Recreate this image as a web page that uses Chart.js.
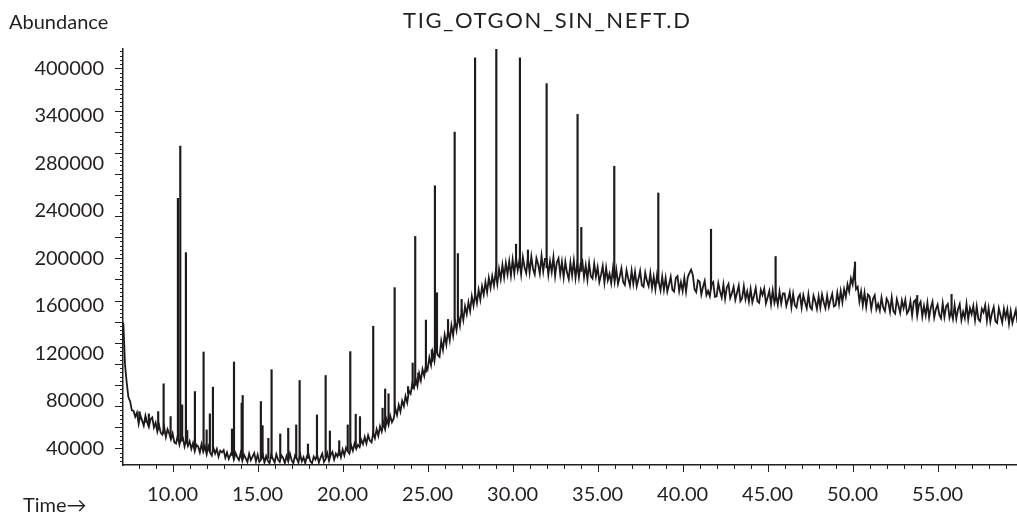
<!DOCTYPE html>
<html>
<head>
<meta charset="utf-8">
<script src="https://cdn.jsdelivr.net/npm/chart.js@4.4.0/dist/chart.umd.min.js"></script>
<style>
  html, body { margin: 0; padding: 0; background: #fff; }
  #wrap { width: 1017px; height: 514px; }
</style>
</head>
<body>
<div id="wrap"><canvas id="chartTic" width="1017" height="514"></canvas></div>
<script>
const chartTitle = 'TIG_OTGON_SIN_NEFT.D';
const yAxisTitle = 'Abundance';
const xAxisTitle = 'Time\u2192';

// linha de base: uma leitura a cada 0.1 min, começando em 7.1 min
const scanStart = 7.1;
const scanStep = 0.1;
const baseline = [
  146000, 110000, 95000, 83000, 79500, 72000, 71500, 66500, 70000,
  60500, 68000, 63500, 59000, 67500, 62000, 58000, 64500, 66000, 57500,
  61500, 54000, 59500, 53000, 51500, 58000, 49500, 56000, 52500, 47500,
  52500, 45000, 44000, 50500, 43000, 48500, 49000, 41500, 47500, 42000,
  46000, 39500, 44500, 37500, 43000, 41500, 36500, 43500, 37000, 41500,
  35000, 41500, 36500, 34000, 40500, 35500, 39500, 33000, 38000, 36500,
  38500, 32000, 36500, 31000, 34500, 37500, 30500, 36000, 32500, 30000,
  36000, 29500, 34500, 31500, 28500, 35500, 30000, 33000, 36000, 29000,
  34500, 28500, 30500, 35000, 28000, 33500, 29500, 27500, 34500, 31000,
  28000, 35000, 30500, 28500, 34000, 32000, 27500, 33500, 29000, 35500,
  30000, 27500, 34000, 31500, 28000, 35000, 29000, 32500, 27500, 33500,
  35000, 29000, 27500, 33000, 30500, 34500, 28000, 32000, 35500, 28500,
  31000, 36000, 29500, 34500, 37000, 30500, 35500, 33000, 38500, 32500,
  39000, 34000, 40500, 37500, 35500, 42500, 38000, 44000, 39500, 43000,
  41000, 47000, 43500, 49500, 44000, 51000, 46500, 45000, 53000, 48500,
  56000, 50500, 58500, 54000, 61500, 56000, 64500, 59500, 67500, 62000,
  65000, 73500, 68000, 76500, 71000, 80000, 75500, 84000, 78500, 88500,
  86000, 94500, 91000, 98500, 92500, 103000, 97000, 106500, 101000, 110000,
  106500, 116500, 110000, 121000, 113500, 125000, 118500, 117000, 130500, 123000,
  135500, 127500, 139500, 131000, 143500, 135000, 147500, 139500, 152000, 143500,
  156500, 148000, 159500, 153000, 163000, 155500, 168000, 160000, 170500, 162500,
  173500, 165000, 176500, 169500, 180000, 171500, 183500, 175000, 185000, 177000,
  188000, 178500, 191000, 182500, 194500, 184000, 196000, 186500, 197500, 185500,
  199000, 187000, 200500, 190000, 198500, 186500, 201000, 192500, 187500, 200500,
  188000, 201500, 191000, 186500, 200000, 195000, 187000, 202000, 189000, 199500,
  199500, 186000, 197500, 188500, 201000, 185000, 196500, 200000, 186500, 197000,
  184000, 197000, 188000, 182500, 196500, 185500, 198000, 183500, 195500, 184000,
  195500, 198000, 184000, 194000, 182000, 196000, 185000, 183000, 195500, 184500,
  192500, 180000, 186000, 193500, 179500, 192000, 181500, 187000, 179000, 191500,
  180000, 190500, 178500, 184500, 191500, 180000, 177500, 190000, 183000, 177000,
  189500, 178500, 188500, 176500, 182500, 189500, 177500, 176000, 188000, 181000,
  176500, 187500, 175000, 184500, 174000, 186500, 179500, 173000, 184500, 173500,
  183500, 172000, 178000, 184500, 173500, 172000, 183500, 185000, 172500, 180000,
  172500, 183500, 172000, 184000, 187500, 190500, 186000, 174000, 171500, 181500,
  180500, 169500, 176000, 181000, 169000, 172500, 168000, 178000, 180000, 167500,
  168000, 179000, 172000, 167000, 178000, 166000, 175500, 178500, 166500, 170500,
  176000, 165000, 171000, 177000, 164000, 166500, 176500, 165500, 172000, 163500,
  174000, 163000, 168500, 175000, 164000, 162500, 173500, 169000, 174500, 162000,
  167000, 172500, 161500, 173000, 162500, 168500, 161000, 172000, 162000, 170500,
  170500, 160000, 165000, 171500, 159000, 170000, 160500, 158500, 167000, 169500,
  158500, 169000, 163000, 158000, 169500, 159000, 157000, 168500, 164000, 157500,
  168000, 158500, 169500, 163000, 158000, 168500, 159000, 165000, 170000, 159500,
  160500, 171000, 161500, 172500, 163000, 174000, 167500, 178000, 172000, 183000,
  178000, 190000, 174000, 176000, 163500, 172000, 160500, 171000, 159000, 169500,
  168000, 157500, 166000, 169000, 157000, 161500, 156000, 167000, 158500, 155500,
  166000, 163000, 155000, 167000, 155500, 153500, 165500, 160000, 154000, 164500,
  158000, 165000, 153500, 156000, 164000, 152000, 163500, 165000, 151500, 160500,
  163500, 151000, 160000, 152000, 162500, 150000, 158500, 163500, 150000, 157000,
  161000, 152500, 149500, 162000, 150500, 159500, 161500, 150000, 155500, 149000,
  160500, 149000, 157000, 161500, 148000, 155000, 149500, 161500, 148500, 158000,
  153000, 160000, 148000, 159500, 148500, 147000, 157500, 154500, 160500, 147500,
  158000, 146500, 154000, 159000, 147000, 145500, 158000, 152000, 146000, 157500,
  150000, 157000, 145000, 155500, 145500, 151000, 156500, 145500
];

// picos: tempo de retenção (min), base e topo
const peakTimes = [
  8.04, 8.41, 8.6, 9.15, 9.47, 9.88, 10.31, 10.45, 10.56, 10.78, 10.86,
  11.31, 11.82, 12.0, 12.19, 12.37, 13.49, 13.61, 14.06, 14.12,
  15.19, 15.29, 15.63, 15.82, 16.33, 16.8, 17.27, 17.47, 17.96, 18.49,
  19.0, 19.25, 19.8, 20.3, 20.45, 20.77, 21.02, 21.8, 22.35, 22.5, 22.7,
  23.06, 23.85, 24.12, 24.27, 24.45, 24.9, 25.25, 25.43, 25.55,
  26.2, 26.59, 26.78, 27.0, 27.79, 29.04, 30.2, 30.43, 30.9, 32.0,
  33.82, 34.04, 35.98, 38.57, 41.67, 45.47, 50.14, 53.8, 55.82
];
const peakBases = [
  64000, 62000, 60500, 56000, 52500, 49500, 47000, 46500, 46000, 45000, 44500,
  41000, 39000, 38500, 37500, 37000, 34000, 34000, 33000, 33000,
  31500, 31500, 31500, 31500, 31500, 31500, 31500, 31500, 31500, 31500,
  32000, 32500, 34000, 38000, 39500, 42000, 44000, 51000, 58000, 60000, 62500,
  70000, 86000, 90000, 93000, 96000, 104000, 113000, 118000, 121000,
  138000, 147000, 150000, 155000, 170000, 186000, 193000, 192000, 194000, 192000,
  189000, 189000, 184000, 179000, 174000, 166000, 182000, 157000, 155000
];
const peakTops = [
  70900, 65600, 69000, 70900, 94300, 66700, 250500, 294500, 76600, 204800, 55000,
  87800, 121100, 55500, 69000, 91500, 56300, 112700, 78000, 84500,
  79400, 59100, 48400, 106200, 52100, 56900, 59700, 97100, 43600, 68100,
  101300, 54600, 46400, 59700, 121400, 68700, 66700, 142800, 73800, 89900, 85900,
  175300, 92000, 111800, 218400, 103400, 148000, 123100, 261100, 171000,
  148500, 306300, 204000, 165400, 368800, 376200, 211900, 368800, 207000, 347100,
  321200, 226000, 277500, 255000, 224500, 201500, 196900, 168700, 169600
];

// eixos
const xMin = 7.08;
const xMax = 59.67;
const xTickValues = [10, 15, 20, 25, 30, 35, 40, 45, 50, 55];
const yMin = 25940;
const yMax = 376250;
const yTickValues = [40000, 80000, 120000, 160000, 200000, 240000, 280000, 320000, 360000];
const yTickLabels = ['40000', '80000', '120000', '160000', '200000', '240000', '280000', '340000', '400000'];
const yMajorMarksBetween = 18; // marcas maiores entre o primeiro e o último rótulo

const inkColor = '#231f20';
const fontFamily = 'Lato, "Open Sans", sans-serif';

// Marcas das escalas (maiores e menores)
const tickMarksPlugin = {
  id: 'tickMarks',
  afterDraw(chart) {
    const { ctx, chartArea } = chart;
    const xs = chart.scales.x;
    const ys = chart.scales.y;
    ctx.save();
    ctx.strokeStyle = inkColor;
    ctx.lineWidth = 1;

    for (let m = Math.ceil(xs.min); m <= xs.max; m++) {
      const px = Math.round(xs.getPixelForValue(m)) + 0.5;
      const len = m % 5 === 0 ? 7 : 4;
      ctx.beginPath();
      ctx.moveTo(px, chartArea.bottom);
      ctx.lineTo(px, chartArea.bottom + len);
      ctx.stroke();
    }

    const first = yTickValues[0];
    const last = yTickValues[yTickValues.length - 1];
    const minorStep = (last - first) / yMajorMarksBetween / 5;
    const kMin = Math.ceil((ys.min - first) / minorStep);
    const kMax = Math.floor((ys.max - first) / minorStep);
    for (let k = kMin; k <= kMax; k++) {
      const py = Math.round(ys.getPixelForValue(first + k * minorStep)) + 0.5;
      const len = k % 5 === 0 ? 8 : 3;
      ctx.beginPath();
      ctx.moveTo(chartArea.left, py);
      ctx.lineTo(chartArea.left - len, py);
      ctx.stroke();
    }
    ctx.restore();
  }
};

// Textos soltos: título, "Abundance", "Time→"
const textosPlugin = {
  id: 'textos',
  afterDraw(chart) {
    const ctx = chart.ctx;
    ctx.save();
    ctx.fillStyle = inkColor;
    ctx.textBaseline = 'alphabetic';
    ctx.textAlign = 'left';
    ctx.font = '20px ' + fontFamily;
    ctx.fillText(yAxisTitle, 9, 29);
    ctx.fillText(xAxisTitle, 23, 512);

    ctx.font = '22px ' + fontFamily;
    const larguraAlvo = 287;
    const w = ctx.measureText(chartTitle).width;
    ctx.letterSpacing = Math.max(0, (larguraAlvo - w) / (chartTitle.length - 1)).toFixed(2) + 'px';
    ctx.fillText(chartTitle, 403, 28);
    ctx.restore();
  }
};

function montarGrafico() {
  const tracePoints = baseline.map((v, i) => ({ x: +(scanStart + i * scanStep).toFixed(2), y: v }));
  const peakBars = peakTimes.map((t, i) => ({ x: t, y: [peakBases[i], peakTops[i]] }));

  const ctx = document.getElementById('chartTic').getContext('2d');
  new Chart(ctx, {
    type: 'bar',
    data: {
      datasets: [
        {
          type: 'bar',
          label: 'picos',
          data: peakBars,
          backgroundColor: '#1e1a1b',
          borderWidth: 0,
          barThickness: 1.5,
          grouped: false
        },
        {
          type: 'line',
          label: 'TIC',
          data: tracePoints,
          borderColor: '#1e1a1b',
          borderWidth: 1.8,
          borderJoinStyle: 'miter',
          pointRadius: 0,
          tension: 0,
          fill: false
        }
      ]
    },
    options: {
      responsive: false,
      devicePixelRatio: 1,
      animation: false,
      layout: { padding: { top: 49, right: 0, left: 0, bottom: 0 } },
      plugins: {
        legend: { display: false },
        tooltip: { enabled: false },
        title: { display: false }
      },
      scales: {
        x: {
          type: 'linear',
          min: xMin,
          max: xMax,
          offset: false,
          grid: { display: false, drawTicks: false },
          border: { display: true, color: inkColor, width: 1.5 },
          afterBuildTicks: s => { s.ticks = xTickValues.map(v => ({ value: v })); },
          afterFit: s => { s.height = 49; },
          ticks: {
            autoSkip: false,
            maxRotation: 0,
            padding: 18,
            color: inkColor,
            font: { family: fontFamily, size: 20 },
            callback: v => Number(v).toFixed(2)
          }
        },
        y: {
          type: 'linear',
          min: yMin,
          max: yMax,
          grid: { display: false, drawTicks: false },
          border: { display: true, color: inkColor, width: 1.5 },
          afterBuildTicks: s => { s.ticks = yTickValues.map(v => ({ value: v })); },
          afterFit: s => { s.width = 123; },
          ticks: {
            autoSkip: false,
            padding: 19,
            color: inkColor,
            font: { family: fontFamily, size: 20 },
            callback: (v, i) => yTickLabels[i]
          }
        }
      }
    },
    plugins: [tickMarksPlugin, textosPlugin]
  });
}

document.addEventListener('DOMContentLoaded', () => {
  montarGrafico();
});
</script>
</body>
</html>
